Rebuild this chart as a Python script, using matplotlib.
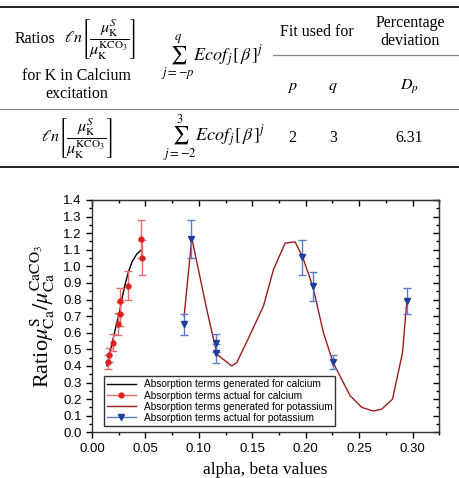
import matplotlib
matplotlib.use('Agg')
import matplotlib.pyplot as plt
from matplotlib.lines import Line2D

plt.rcParams['mathtext.fontset'] = 'stix'
serif = 'Liberation Serif'
sans = 'Liberation Sans'

# measured points, calcium
ca_x = [0.0147, 0.0162, 0.0193, 0.0243, 0.0259, 0.0265, 0.0334, 0.0462, 0.0471]
ca_y = [0.424, 0.466, 0.540, 0.652, 0.713, 0.793, 0.883, 1.164, 1.052]
ca_err = [0.040, 0.045, 0.052, 0.065, 0.070, 0.078, 0.088, 0.116, 0.105]

# generated curve, calcium
ca_fit_x = [0.0140, 0.0165, 0.0193, 0.0225, 0.0259, 0.0285, 0.0309, 0.0340, 0.0377, 0.0420, 0.0462]
ca_fit_y = [0.400, 0.470, 0.550, 0.640, 0.730, 0.820, 0.890, 0.965, 1.030, 1.075, 1.100]

# measured points, potassium
k_x = [0.0859, 0.0924, 0.1164, 0.1164, 0.1969, 0.2066, 0.2256, 0.2950]
k_y = [0.650, 1.164, 0.536, 0.476, 1.054, 0.881, 0.425, 0.791]
k_err = [0.065, 0.116, 0.054, 0.057, 0.105, 0.088, 0.042, 0.079]

# generated curve, potassium
k_fit_x = [0.0862, 0.0934, 0.1074, 0.1152, 0.1168, 0.1308, 0.1355, 0.1466, 0.1604,
           0.1698, 0.1807, 0.1900, 0.1969, 0.2066, 0.2166, 0.2256, 0.2416, 0.2525,
           0.2634, 0.2712, 0.2812, 0.2906, 0.2946]
k_fit_y = [0.70, 1.17, 0.74, 0.52, 0.47, 0.40, 0.42, 0.57, 0.76,
           0.98, 1.14, 1.148, 1.06, 0.88, 0.60, 0.42, 0.22, 0.15,
           0.128, 0.14, 0.20, 0.48, 0.79]

fig = plt.figure(figsize=(4.6, 4.78), dpi=100)

# ---- table on top ----
def fy(px):
    return 1 - px / 478.0

def fx(px):
    return px / 460.0

fig.add_artist(Line2D([0, 1], [fy(6.5), fy(6.5)], color='black', lw=1.2))
fig.add_artist(Line2D([fx(273), 1], [fy(55), fy(55)], color='#888888', lw=0.9))
fig.add_artist(Line2D([0, 1], [fy(109), fy(109)], color='#888888', lw=0.9))
fig.add_artist(Line2D([0, 1], [fy(167), fy(167)], color='black', lw=1.2))

ratio = r'$\ell n\left[\dfrac{\mu_{\mathrm{K}}^{S}}{\mu_{\mathrm{K}}^{\mathrm{KCO_3}}}\right]$'
tfs = 11.5
kw = dict(ha='center', va='center', family=serif, fontsize=tfs)
kw_sum = dict(ha='center', va='center', family=serif, fontsize=13)
fig.text(fx(35), fy(39), 'Ratios', **kw)
fig.text(fx(100), fy(39), ratio, **kw)
fig.text(fx(77), fy(76), 'for K in Calcium', **kw)
fig.text(fx(77), fy(94), 'excitation', **kw)
fig.text(fx(212), fy(58), r'$\sum_{j=-p}^{q} Ecof_{\,j}\left[\,\beta\,\right]^{j}$', **kw_sum)
fig.text(fx(317), fy(32), 'Fit used for', **kw)
fig.text(fx(410), fy(23), 'Percentage', **kw)
fig.text(fx(410), fy(41), 'deviation', **kw)
fig.text(fx(292), fy(87), r'$p$', **kw)
fig.text(fx(333), fy(87), r'$q$', **kw)
fig.text(fx(409), fy(87), r'$D_p$', **kw)
fig.text(fx(77), fy(138), ratio, **kw)
fig.text(fx(214), fy(138), r'$\sum_{j=-2}^{3} Ecof_{\,j}\left[\,\beta\,\right]^{j}$', **kw_sum)
fig.text(fx(292), fy(138), '2', **kw)
fig.text(fx(333), fy(138), '3', **kw)
fig.text(fx(409), fy(138), '6.31', **kw)

# ---- chart ----
ax = fig.add_axes([0.2, 0.0956, 0.755, 0.486])

ax.plot(ca_fit_x, ca_fit_y, color='black', lw=1.0,
        label='Absorption terms generated for calcium')
ax.errorbar(ca_x, ca_y, yerr=ca_err, fmt='o', ms=3.5, color='#e02020',
            ecolor='#e86a6a', elinewidth=1.0, capsize=3, capthick=1.0, ls='none')
ax.plot(k_fit_x, k_fit_y, color='#9b1c1c', lw=1.0,
        label='Absorption terms generated for potassium')
ax.errorbar(k_x, k_y, yerr=k_err, fmt='v', ms=4, color='#1f3d9a',
            ecolor='#5a7ccc', elinewidth=1.0, capsize=3, capthick=1.0, ls='none')

# legend handles
h1 = Line2D([], [], color='black', lw=1.0)
h2 = Line2D([], [], color='#e86a6a', lw=1.0, marker='o', ms=3.5,
            mfc='#e02020', mec='#e02020')
h3 = Line2D([], [], color='#9b1c1c', lw=1.0)
h4 = Line2D([], [], color='#5a7ccc', lw=1.0, marker='v', ms=4,
            mfc='#1f3d9a', mec='#1f3d9a')
leg = ax.legend([h1, h2, h3, h4],
                ['Absorption terms generated for calcium',
                 'Absorption terms actual for calcium',
                 'Absorption terms generated for potassium',
                 'Absorption terms actual for potassium'],
                loc='lower left', bbox_to_anchor=(0.035, 0.027),
                prop={'family': sans, 'size': 7.3}, fancybox=False,
                edgecolor='#333333', framealpha=1, handlelength=2.8,
                labelspacing=0.12, borderpad=0.3, borderaxespad=0)
leg.get_frame().set_linewidth(1.0)

ax.set_xlim(0, 0.325)
ax.set_ylim(0, 1.4)
ax.set_xticks([0.00, 0.05, 0.10, 0.15, 0.20, 0.25, 0.30])
ax.set_xticks([0.025, 0.075, 0.125, 0.175, 0.225, 0.275, 0.325], minor=True)
ax.set_yticks([i / 10 for i in range(15)])
ax.set_yticks([i / 20 for i in range(1, 28, 2)], minor=True)
ax.set_xticklabels(['0.00', '0.05', '0.10', '0.15', '0.20', '0.25', '0.30'])
ax.set_yticklabels(['%.1f' % (i / 10) for i in range(15)])
for lab in ax.get_xticklabels() + ax.get_yticklabels():
    lab.set_family(sans)
    lab.set_fontsize(9.5)

ax.tick_params(which='both', direction='out', top=False, right=False, width=1.0)
ax.tick_params(which='major', length=4)
ax.tick_params(which='minor', length=2.5)
sec = ax.secondary_xaxis('top')
sec.set_xticks([0.00, 0.05, 0.10, 0.15, 0.20, 0.25, 0.30])
sec.set_xticks([0.025, 0.075, 0.125, 0.175, 0.225, 0.275, 0.325], minor=True)
sec.tick_params(which='both', direction='in', labeltop=False, width=1.0)
sec.tick_params(which='major', length=4)
sec.tick_params(which='minor', length=2.5)
secy = ax.secondary_yaxis('right')
secy.set_yticks([i / 10 for i in range(15)])
secy.set_yticks([i / 20 for i in range(1, 28, 2)], minor=True)
secy.tick_params(which='both', direction='in', labelright=False, width=1.0)
secy.tick_params(which='major', length=4)
secy.tick_params(which='minor', length=2.5)
for s in ax.spines.values():
    s.set_linewidth(1.0)
    s.set_color('#333333')

ax.set_xlabel('alpha, beta values', family=serif, fontsize=12.5, labelpad=5)
ax.set_ylabel(r'Ratio$\mu_{\mathrm{Ca}}^{\mathrm{S}}/\mu_{\mathrm{Ca}}^{\mathrm{CaCO_3}}$',
              family=serif, fontsize=16, labelpad=4)

fig.savefig('out.png', dpi=100)
